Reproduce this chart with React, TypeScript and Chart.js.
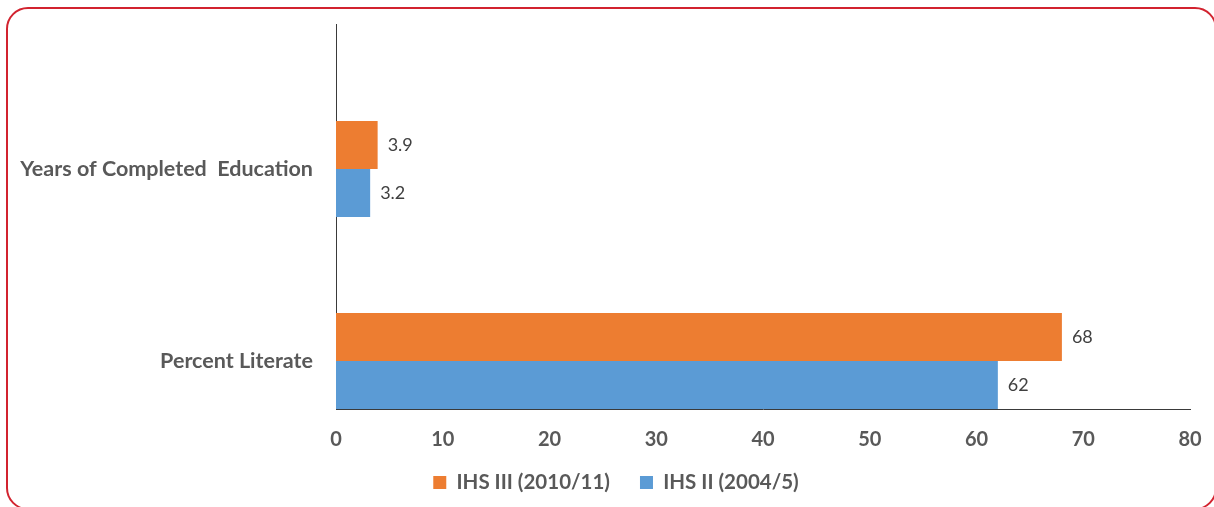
import React, { useEffect, useRef } from 'react';
import { Chart, registerables } from 'chart.js';

Chart.register(...registerables);

// ---- data ----
const categories = ['Years of Completed  Education', 'Percent Literate'];
const categoryPositions = [1, 0];
const seriesLabels = ['IHS III (2010/11)', 'IHS II (2004/5)'];
const ihs3Values = [3.9, 68];
const ihs2Values = [3.2, 62];
const xMin = 0;
const xMax = 80;
const xStep = 10;

// ---- style ----
const FONT = "Lato, 'Open Sans', sans-serif";
const ORANGE = '#ED7D31';
const BLUE = '#5B9BD5';
const LABEL_GRAY = '#595959';
const VALUE_GRAY = '#404040';
const AXIS_LINE = '#3a3a3a';
const LEGEND_SHIFT = 21;
const LEGEND_UP = 6.75;

const valueLabels = {
  id: 'valueLabels',
  afterDatasetsDraw(chart: any) {
    const ctx = chart.ctx;
    ctx.save();
    ctx.font = `18px ${FONT}`;
    ctx.fillStyle = VALUE_GRAY;
    ctx.textBaseline = 'middle';
    ctx.textAlign = 'left';
    chart.data.datasets.forEach((ds: any, di: number) => {
      chart.getDatasetMeta(di).data.forEach((el: any, i: number) => {
        ctx.fillText(String(ds.data[i].x), el.x + 10, el.y);
      });
    });
    ctx.restore();
  },
};

const legendShift = {
  id: 'legendShift',
  afterLayout(chart: any) {
    const l = chart.legend;
    if (l) {
      l.left += LEGEND_SHIFT;
      l.right += LEGEND_SHIFT;
      l.top -= LEGEND_UP;
      l.bottom -= LEGEND_UP;
    }
  },
};

export default function App() {
  const canvasRef = useRef<HTMLCanvasElement | null>(null);

  useEffect(() => {
    if (!canvasRef.current) return;
    const chart = new Chart(canvasRef.current, {
      type: 'bar',
      data: {
        datasets: [
          {
            label: seriesLabels[0],
            data: ihs3Values.map((v, i) => ({ x: v, y: categoryPositions[i] })),
            backgroundColor: ORANGE,
            borderWidth: 0,
          },
          {
            label: seriesLabels[1],
            data: ihs2Values.map((v, i) => ({ x: v, y: categoryPositions[i] })),
            backgroundColor: BLUE,
            borderWidth: 0,
          },
        ],
      },
      options: {
        indexAxis: 'y',
        animation: false,
        responsive: false,
        maintainAspectRatio: false,
        categoryPercentage: 0.5,
        barPercentage: 1,
        layout: { padding: { top: 24, right: 24, bottom: 0, left: 0 } },
        scales: {
          x: {
            type: 'linear',
            min: xMin,
            max: xMax,
            ticks: {
              stepSize: xStep,
              padding: 19,
              color: LABEL_GRAY,
              font: { family: FONT, size: 20, weight: 'bold' },
            },
            grid: { display: false, drawTicks: false },
            border: { display: true, color: AXIS_LINE, width: 1 },
            afterFit: (s: any) => {
              s.height = 40;
              s.paddingLeft = 0;
              s.paddingRight = 0;
            },
          },
          y: {
            type: 'linear',
            offset: false,
            min: -0.25,
            max: 1.755,
            afterBuildTicks: (s: any) => {
              s.ticks = categoryPositions.map((v) => ({ value: v }));
            },
            afterFit: (s: any) => {
              s.width = 336;
              s.paddingTop = 0;
              s.paddingBottom = 0;
            },
            ticks: {
              padding: 23,
              color: LABEL_GRAY,
              font: { family: FONT, size: 21.5, weight: 'bold' },
              callback: (v: any) => {
                const idx = categoryPositions.indexOf(Number(v));
                return idx >= 0 ? categories[idx] : '';
              },
            },
            grid: { display: false, drawTicks: false, offset: false },
            border: { display: true, color: AXIS_LINE, width: 1 },
          },
        },
        plugins: {
          legend: {
            position: 'bottom',
            maxHeight: 58,
            labels: {
              boxWidth: 13,
              boxHeight: 13,
              padding: 30,
              color: LABEL_GRAY,
              font: { family: FONT, size: 20.5, weight: 'bold' },
            },
          },
          tooltip: { enabled: false },
        },
      } as any,
      plugins: [valueLabels, legendShift],
    });
    return () => chart.destroy();
  }, []);

  return (
    <div
      style={{
        position: 'fixed',
        left: 0,
        top: 0,
        width: 1214,
        height: 507,
        overflow: 'hidden',
        background: '#ffffff',
      }}
    >
      <canvas
        ref={canvasRef}
        width={1214}
        height={507}
        style={{ position: 'absolute', left: 0, top: 0, width: 1214, height: 507 }}
      />
      <div
        style={{
          position: 'absolute',
          left: 6,
          top: 7,
          width: 1211,
          height: 503,
          boxSizing: 'border-box',
          border: '2.5px solid #D2232F',
          borderRadius: 22,
          pointerEvents: 'none',
        }}
      />
    </div>
  );
}
